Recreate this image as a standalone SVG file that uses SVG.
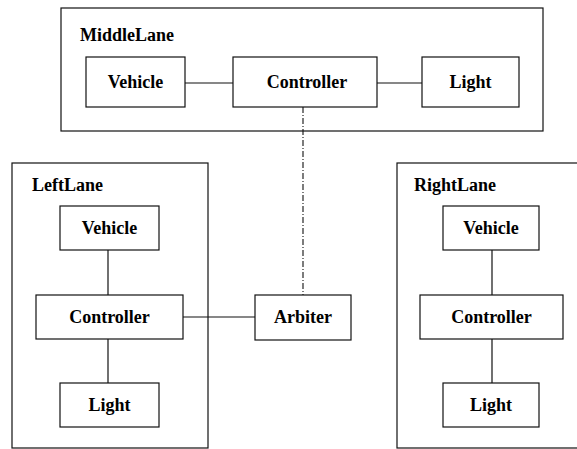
<svg xmlns="http://www.w3.org/2000/svg" width="577" height="449" viewBox="0 0 577 449">
<style>
.lane{fill:none;stroke:#111;stroke-width:1.2}
.box{fill:#fff;stroke:#111;stroke-width:1.2}
.t{font-family:"Liberation Serif","Times New Roman",serif;font-weight:bold;font-size:18px;fill:#000;text-anchor:middle}
.lbl{font-family:"Liberation Serif","Times New Roman",serif;font-weight:bold;font-size:18px;fill:#000}
.c{stroke:#111;stroke-width:1.2;fill:none}
.d{stroke:#111;stroke-width:1.1;fill:none;stroke-dasharray:6 2 1 2}
</style>
<rect width="577" height="449" fill="#fff"/>
<g id="MiddleLane">
<rect class="lane" x="61" y="8" width="482" height="123"/>
<text class="lbl" x="80" y="41">MiddleLane</text>
</g>
<g id="LeftLane">
<rect class="lane" x="12" y="163" width="196" height="285"/>
<text class="lbl" x="32" y="191">LeftLane</text>
</g>
<g id="RightLane">
<rect class="lane" x="397" y="163" width="200" height="285"/>
<text class="lbl" x="414" y="191">RightLane</text>
</g>
<g id="connectors">
<line class="c" x1="185" y1="83" x2="233" y2="83"/>
<line class="c" x1="377" y1="83" x2="422" y2="83"/>
<line class="d" x1="303" y1="107" x2="303" y2="295"/>
<line class="c" x1="183" y1="317" x2="255" y2="317"/>
<line class="c" x1="108" y1="250" x2="108" y2="295"/>
<line class="c" x1="108" y1="339" x2="108" y2="383"/>
<line class="c" x1="492" y1="250" x2="492" y2="295"/>
<line class="c" x1="492" y1="339" x2="492" y2="383"/>
</g>
<g id="MiddleVehicle"><rect class="box" x="86" y="57" width="99" height="50"/><text class="t" x="135.5" y="88">Vehicle</text></g>
<g id="MiddleController"><rect class="box" x="233" y="57" width="144" height="50"/><text class="t" x="307" y="88">Controller</text></g>
<g id="MiddleLight"><rect class="box" x="422" y="57" width="97" height="50"/><text class="t" x="470.5" y="88">Light</text></g>
<g id="LeftVehicle"><rect class="box" x="60" y="206" width="99" height="44"/><text class="t" x="109.5" y="234">Vehicle</text></g>
<g id="LeftController"><rect class="box" x="36" y="295" width="147" height="44"/><text class="t" x="109.5" y="323">Controller</text></g>
<g id="LeftLight"><rect class="box" x="60" y="383" width="99" height="44"/><text class="t" x="109.5" y="411">Light</text></g>
<g id="Arbiter"><rect class="box" x="255" y="295" width="96" height="45"/><text class="t" x="303" y="323">Arbiter</text></g>
<g id="RightVehicle"><rect class="box" x="443" y="206" width="96" height="44"/><text class="t" x="491" y="234">Vehicle</text></g>
<g id="RightController"><rect class="box" x="420" y="295" width="143" height="44"/><text class="t" x="491.5" y="323">Controller</text></g>
<g id="RightLight"><rect class="box" x="443" y="383" width="96" height="44"/><text class="t" x="491" y="411">Light</text></g>
</svg>
